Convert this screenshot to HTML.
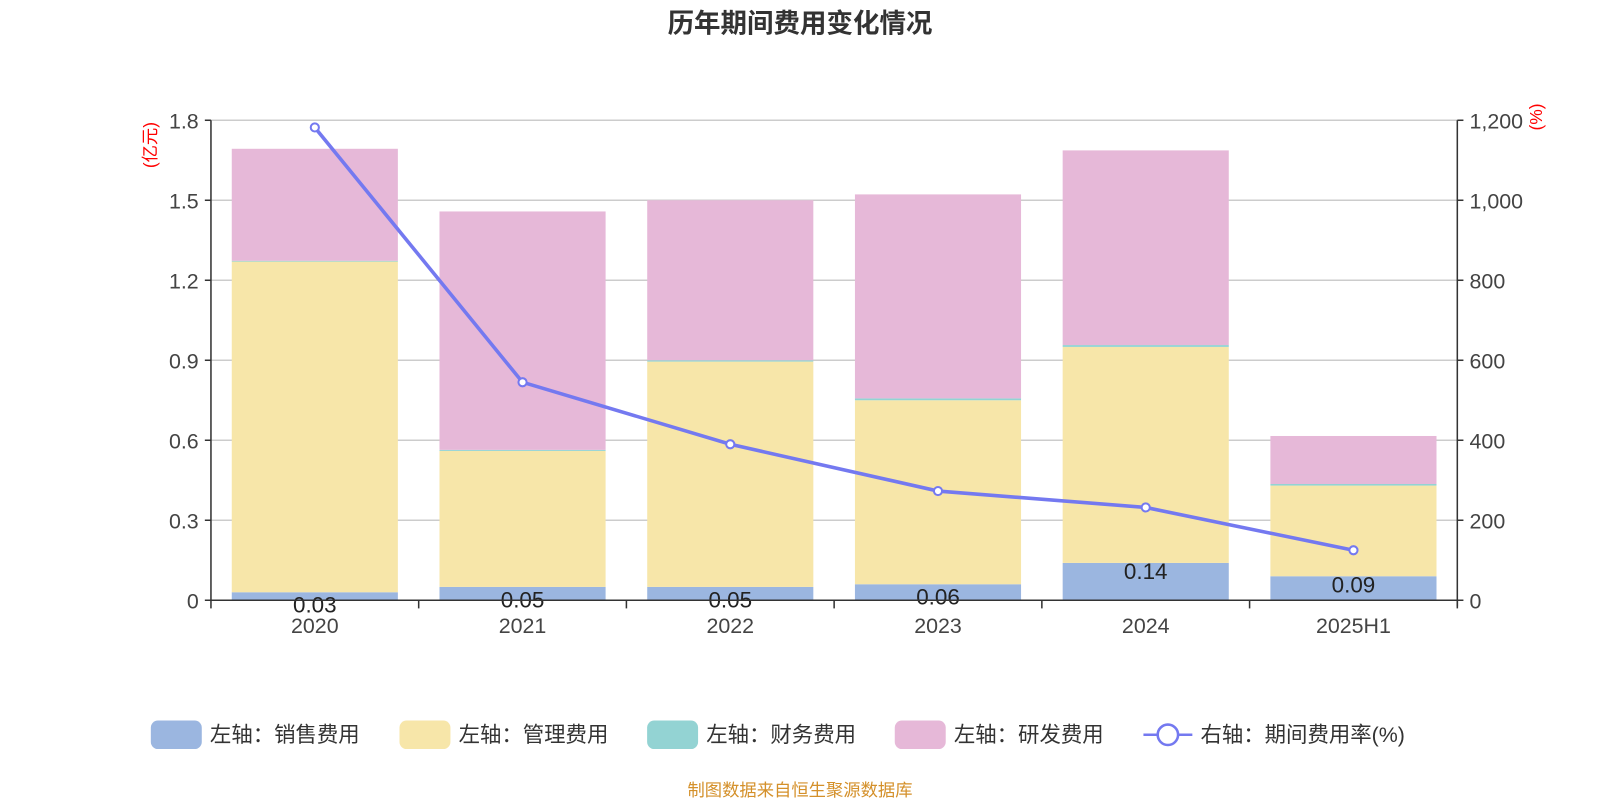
<!DOCTYPE html>
<html><head><meta charset="utf-8"><style>
body{margin:0;background:#fff;}
svg text{font-family:"Liberation Sans","Noto Sans CJK SC",sans-serif;}
</style></head><body>
<svg width="1600" height="800" xmlns="http://www.w3.org/2000/svg"><g id="c" transform="scale(1.0191)"></g></svg>
<script>
const categories=["2020","2021","2022","2023","2024","2025H1"];
const sales=[0.03,0.05,0.05,0.06,0.14,0.09];
const mgmt=[1.24,0.51,0.845,0.69,0.81,0.34];
const fin=[0.003,0.004,0.005,0.007,0.007,0.006];
const rd=[0.42,0.894,0.60,0.765,0.73,0.18];
const rate=[1182,545,390,273,232,125];
const leftTicks=["0","0.3","0.6","0.9","1.2","1.5","1.8"];
const rightTicks=["0","200","400","600","800","1,000","1,200"];
const NS="http://www.w3.org/2000/svg";
const svg=document.getElementById('c');
const L=207,R=1430,T=118,B=589;
const yL=v=>B-v/1.8*(B-T);
const yR=v=>B-v/1200*(B-T);
const bw=(R-L)/categories.length;
const xC=i=>L+bw*(i+0.5);
function el(t,a,txt){const e=document.createElementNS(NS,t);for(const k in a)e.setAttribute(k,a[k]);if(txt!=null)e.textContent=txt;svg.appendChild(e);return e;}
let e=el('text',{x:785,y:32,'text-anchor':'middle','font-size':26,'font-weight':'bold',fill:'#333'},'历年期间费用变化情况');

for(let i=0;i<leftTicks.length;i++){
 const y=yL(i*0.3);
 if(i>0){e=el('line',{x1:L,x2:R,y1:y,y2:y,stroke:'#ccc','stroke-width':1.5});}
 el('line',{x1:L-6,x2:L,y1:y,y2:y,stroke:'#333','stroke-width':1.5});
 el('line',{x1:R,x2:R+6,y1:y,y2:y,stroke:'#333','stroke-width':1.5});
 e=el('text',{x:L-12,y:y+8,'text-anchor':'end','font-size':21,fill:'#444'},leftTicks[i]);
 e=el('text',{x:R+12,y:y+8,'text-anchor':'start','font-size':21,fill:'#444'},rightTicks[i]);
}
const series=[[sales,'#9bb6e0'],[mgmt,'#f7e6a9'],[fin,'#93d3d3'],[rd,'#e6b8d8']];
const names=['bar-sales','bar-mgmt','bar-finance','bar-rd'];
categories.forEach((c,i)=>{
 let base=0;
 series.forEach((s,j)=>{
  const v=s[0][i];
  const r=el('rect',{x:xC(i)-81.5,width:163,y:yL(base+v),height:yL(base)-yL(base+v),fill:s[1]});
  
  base+=v;
 });
 e=el('text',{x:xC(i),y:yL(sales[i])+(sales[i]>0.08?16:20),'text-anchor':'middle','font-size':22,fill:'#222'},sales[i].toFixed(2));
 
 e=el('text',{x:xC(i),y:621,'text-anchor':'middle','font-size':21,fill:'#444'},c);
 
});
el('line',{x1:L,x2:L,y1:T,y2:B,stroke:'#333','stroke-width':1.5});
el('line',{x1:R,x2:R,y1:T,y2:B+6,stroke:'#333','stroke-width':1.5});
el('line',{x1:L,x2:R,y1:B,y2:B,stroke:'#333','stroke-width':1.5});
for(let i=0;i<=categories.length;i++)el('line',{x1:L+bw*i,x2:L+bw*i,y1:B,y2:B+8,stroke:'#333','stroke-width':1.5});
const pts=rate.map((v,i)=>xC(i)+','+yR(v)).join(' ');
e=el('polyline',{points:pts,fill:'none',stroke:'#7479f0','stroke-width':3.5});

rate.forEach((v,i)=>{e=el('circle',{cx:xC(i),cy:yR(v),r:4,fill:'#fff',stroke:'#7479f0','stroke-width':2});});
e=el('text',{x:0,y:0,'font-size':17,fill:'red',transform:'translate(153,165) rotate(-90)'},'(亿元)');
e=el('text',{x:0,y:0,'font-size':17,fill:'red',transform:'translate(1513,128) rotate(-90)'},'(%)');
const leg=[['左轴：销售费用','#9bb6e0',148],['左轴：管理费用','#f7e6a9',392],['左轴：财务费用','#93d3d3',635],['左轴：研发费用','#e6b8d8',878]];
leg.forEach(l=>{
 e=el('rect',{x:l[2],y:707,width:50,height:28,rx:7,fill:l[1]});
 e=el('text',{x:l[2]+58,y:728,'font-size':21,fill:'#333'},l[0]);
});
el('line',{x1:1122,x2:1170,y1:721,y2:721,stroke:'#7479f0','stroke-width':2.5});
e=el('circle',{cx:1146,cy:721,r:10,fill:'#fff',stroke:'#7479f0','stroke-width':2.5});
e=el('text',{x:1178,y:728,'font-size':21,fill:'#333'},'右轴：期间费用率(%)');
e=el('text',{x:785,y:781,'text-anchor':'middle','font-size':17,fill:'#d4902a'},'制图数据来自恒生聚源数据库');
</script>
</body></html>
